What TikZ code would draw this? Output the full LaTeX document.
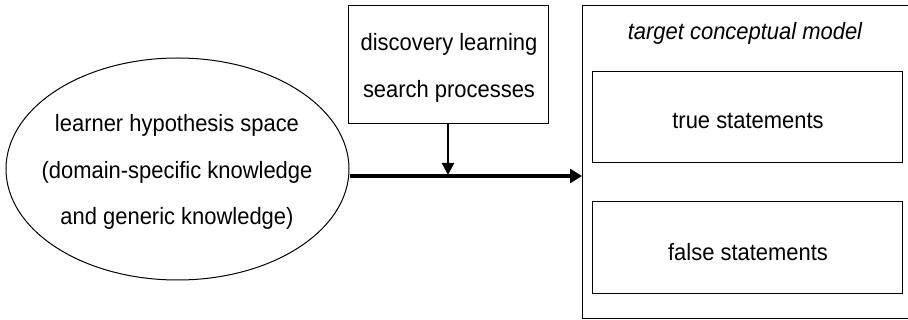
\documentclass[tikz,border=0pt]{standalone}
\usepackage{fontspec}
\setmainfont[FakeStretch=0.93]{Liberation Sans}
\usetikzlibrary{arrows.meta,shapes.geometric}
\begin{document}
\begin{tikzpicture}[x=1pt,y=-1pt,
  txt/.style={font=\fontsize{23.6}{46.5}\selectfont, align=center, inner sep=0pt},
  boxline/.style={draw=black, line width=1pt},
  harr/.style={-{Triangle[length=12pt,width=14pt]}, line width=3.4pt},
  varr/.style={-{Triangle[length=12pt,width=12pt]}, line width=2.2pt}]
\useasboundingbox (0,0) rectangle (908,320);
\clip (0,0) rectangle (908,320);
% ellipse
\node[boxline, ellipse, minimum width=343, minimum height=222, inner sep=0pt] (hyp) at (177.5,169) {};
\node[txt] (hyptxt) at (177,172) {learner hypothesis space\\(domain-specific knowledge\\and generic knowledge)};
% middle box
\node[boxline, rectangle, minimum width=200, minimum height=118, inner sep=0pt] (disc) at (448,65) {};
\node[txt] (disctxt) at (449,68) {discovery learning\\search processes};
% outer box
\draw[boxline] (582,5.5) rectangle (912,318.5);
\coordinate (tcmleft) at (582,176);
\node[txt, font=\fontsize{23.6}{46}\selectfont\itshape] (tcm) at (745,33) {target conceptual model};
\node[boxline, rectangle, minimum width=310, minimum height=91, inner sep=0pt] (true) at (747,117.5) {};
\node[txt] (truetxt) at (748,121) {true statements};
\node[boxline, rectangle, minimum width=310, minimum height=92, inner sep=0pt] (false) at (747,248) {};
\node[txt] (falsetxt) at (748,252) {false statements};
% arrows
\coordinate (join) at (448,175);
\draw[harr] (hyp.east |- tcmleft) -- (tcmleft);
\draw[varr] (disc.south) -- (join);
\end{tikzpicture}
\end{document}
